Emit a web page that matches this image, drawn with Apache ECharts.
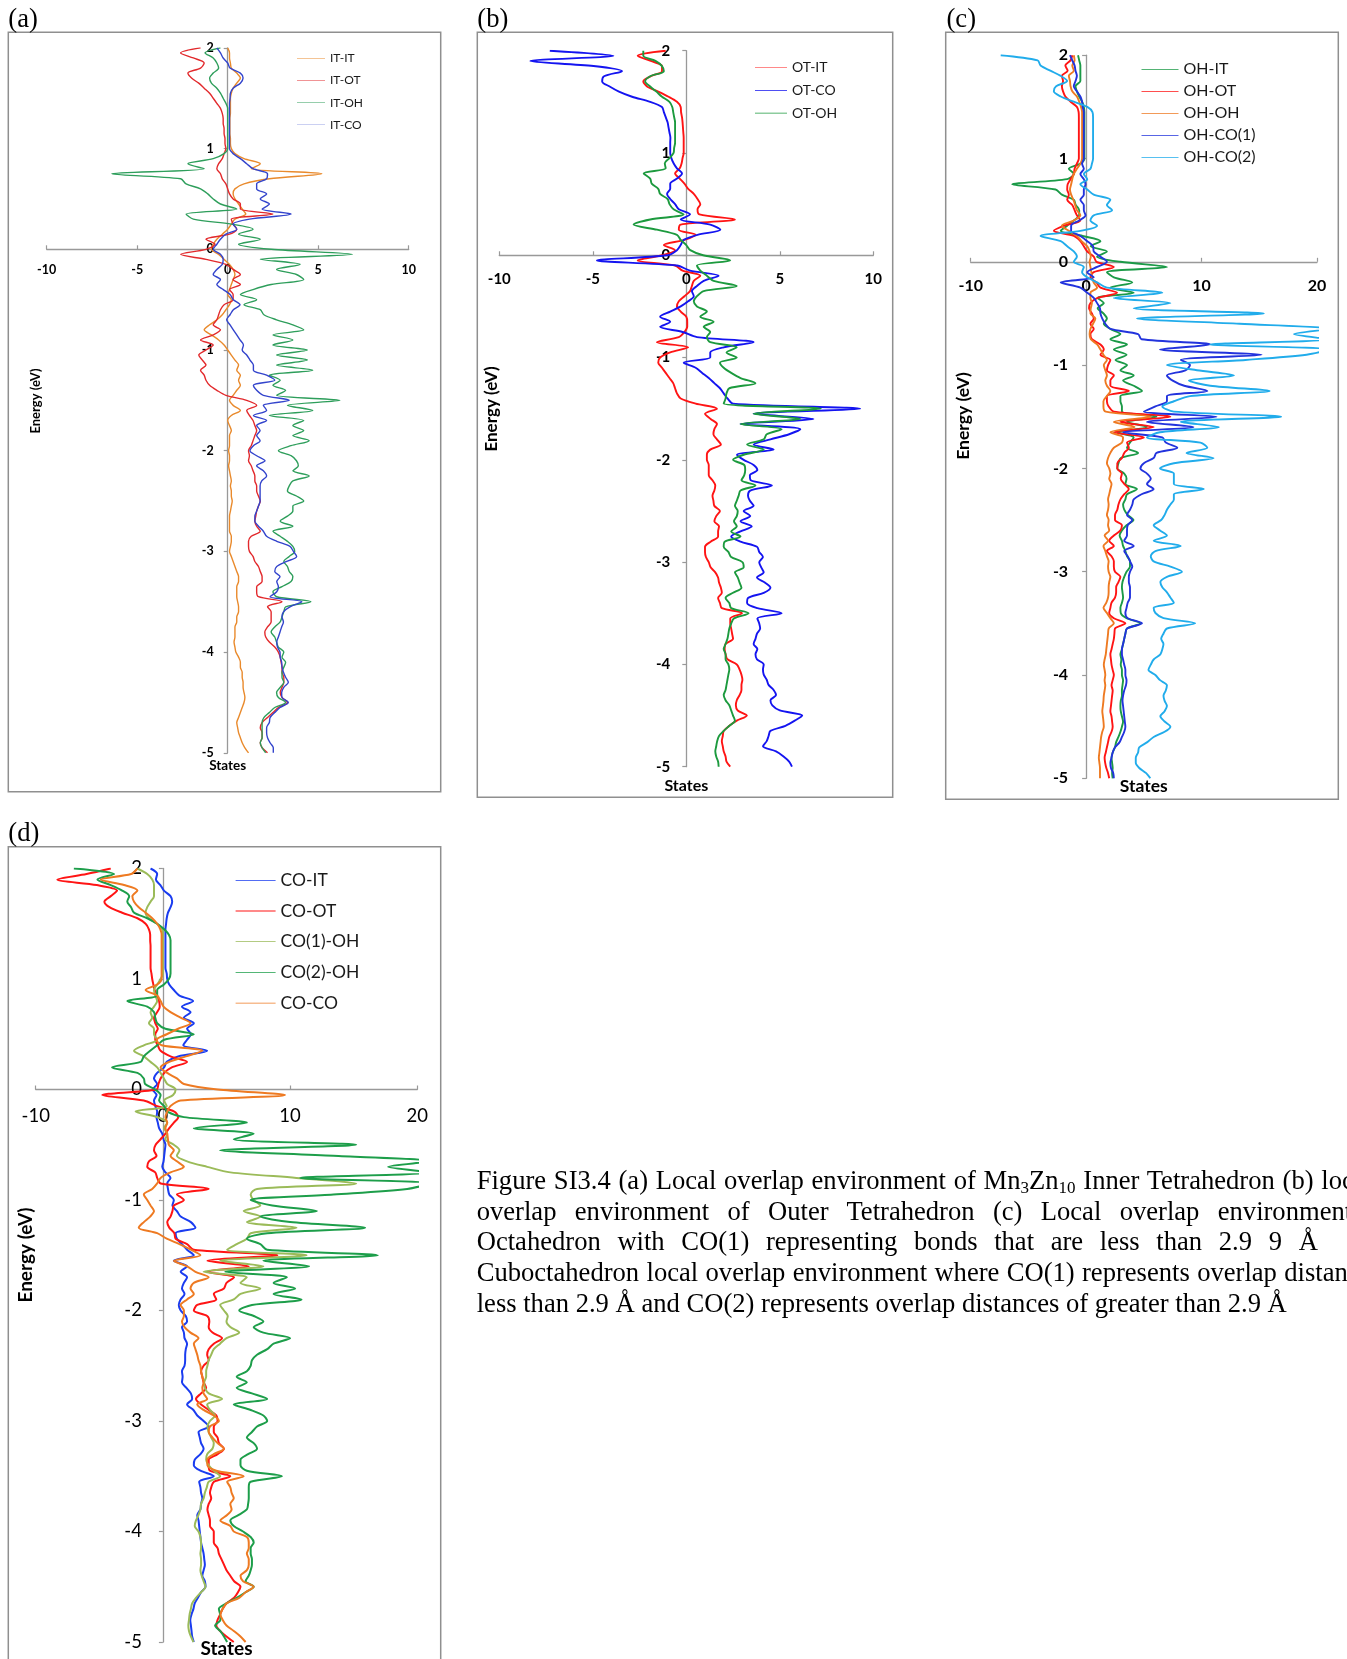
<!DOCTYPE html>
<html><head><meta charset="utf-8">
<script src="https://cdn.jsdelivr.net/npm/echarts@6/dist/echarts.min.js"></script>
<style>
html,body{margin:0;padding:0;width:1347px;height:1659px;overflow:hidden;background:#fff}
#chart{position:absolute;left:0;top:0;width:1347px;height:1659px}
.t{position:absolute;font-family:'Liberation Serif','Times New Roman',serif;font-size:26.6px;line-height:30.7px;white-space:nowrap;color:#000}
.t sub{font-size:17px;vertical-align:-4px;line-height:0}
</style></head><body>
<div id="chart"></div>
<div class="t" style="left:8.3px;top:3px">(a)</div>
<div class="t" style="left:477.3px;top:3px">(b)</div>
<div class="t" style="left:946.5px;top:3px">(c)</div>
<div class="t" style="left:8.3px;top:817px">(d)</div>
<div class="t" style="left:476.7px;top:1165px;word-spacing:1.1px">Figure SI3.4 (a) Local overlap environment of Mn<sub>3</sub>Zn<sub>10</sub> Inner Tetrahedron (b) local</div>
<div class="t" style="left:476.7px;top:1195.7px;word-spacing:11.7px">overlap environment of Outer Tetrahedron (c) Local overlap environment of</div>
<div class="t" style="left:476.7px;top:1226.4px;word-spacing:10px">Octahedron with CO(1) representing bonds that are less than 2.9 9 Å</div>
<div class="t" style="left:476.7px;top:1257.1px;word-spacing:0.7px">Cuboctahedron local overlap environment where CO(1) represents overlap distances</div>
<div class="t" style="left:476.7px;top:1287.8px">less than 2.9 Å and CO(2) represents overlap distances of greater than 2.9 Å</div>
<script>
// Energy sampling grid (eV), 2.00 down to -5.00 in 0.05 steps
const energy = [];
for (let i = 0; i <= 140; i++) energy.push(Math.round((2 - i * 0.05) * 100) / 100);

const yTicks = [2, 1, 0, -1, -2, -3, -4, -5];
const xTicksAB = [-10, -5, 0, 5, 10];
const xTicksCD = [-10, 0, 10, 20];

// ---------- (a) Inner Tetrahedron ----------
const itIT = [
0,0.1,0.1,0.15,0.2,0.5,0.7,0.5,0.3,0.2,
0.15,0.15,0.15,0.15,0.12,0.12,0.12,0.12,0.15,0.15,
0.2,0.4,0.9,1.8,1.3,5.2,2.3,0.9,0.4,0.3,
0.4,0.6,0.8,1.0,0.4,0.2,0,-0.3,-0.6,-0.8,
-0.9,-0.5,-0.2,0.1,0.3,0.4,0.3,0.2,0.1,0,
0.2,0.1,-0.1,-0.3,-0.6,-1.0,-1.3,-0.9,-0.5,-0.2,
0,0.2,0.4,0.6,0.5,0.7,0.6,0.7,0.5,0.3,
0.1,0.3,0.7,0.2,0,0.1,0.2,0.1,0.1,0.1,
0.05,0.1,0.1,0.05,0.1,0.15,0.2,0.15,0.2,0.2,
0.25,0.2,0.15,0.1,0.1,0.1,0.1,0.2,0.2,0.15,
0.1,0.2,0.3,0.4,0.5,0.6,0.6,0.5,0.5,0.5,
0.55,0.6,0.6,0.5,0.5,0.4,0.4,0.4,0.35,0.4,
0.45,0.6,0.7,0.7,0.8,0.8,0.85,0.85,0.9,0.95,
0.9,0.8,0.7,0.6,0.5,0.55,0.6,0.7,0.8,0.95,
1.15];
const itOT = [
-1.5,-2.6,-1.9,-1.3,-1.5,-2.2,-2.0,-1.6,-1.3,-1.0,
-0.8,-0.6,-0.4,-0.3,-0.25,-0.25,-0.2,-0.2,-0.15,-0.15,
-0.1,-0.2,-0.3,-0.5,-0.6,-0.4,-0.3,-0.1,0,0.1,
0.3,0.7,0.7,2.5,0.2,0.3,0.5,0.1,-1.2,-0.7,
-1.2,-2.6,-1.2,-0.1,0.3,0.7,0.3,0.7,0.1,0.3,
0.3,-0.2,-0.4,-0.5,-0.6,-0.8,-0.4,-0.8,-1.5,-0.8,
-1.2,-1.6,-1.4,-1.2,-1.5,-1.3,-1.2,-1.0,-0.6,-0.1,
1.05,1.6,1.05,1.2,1.4,1.5,1.6,1.5,1.4,1.3,
1.15,1.2,1.15,1.3,1.4,1.5,1.5,1.6,1.6,1.7,
1.8,1.7,1.6,1.55,1.5,1.6,1.8,1.3,1.15,1.15,
1.2,1.4,1.5,1.7,1.8,1.9,1.9,1.6,1.6,1.7,
3.0,2.2,2.4,2.4,2.4,2.2,2.05,2.1,2.3,2.6,
2.8,2.9,2.95,3.0,3.0,3.1,3.1,3.0,2.9,3.0,
3.3,2.8,2.5,2.2,1.9,1.8,1.9,1.9,1.8,1.9,
2.2];
const itOH = [
-0.4,-1.25,-0.8,-0.6,-0.5,-0.8,-1.0,-0.9,-0.6,-0.4,
-0.25,-0.1,0,0,0,0,0,0,0,0,
0,-0.2,-0.8,-2.2,-1.3,-6.4,-2.6,-2.3,-1.5,-1.1,
-0.8,-0.4,0.5,-2.3,-1.9,0.2,1.4,0.6,1.8,0.6,
2.4,6.9,1.8,4.0,2.7,3.8,4.2,2.4,1.4,0.7,
1.6,0.9,1.8,2.0,2.7,3.6,4.2,2.5,3.6,2.5,
4.4,2.7,4.4,2.7,4.7,2.3,2.9,2.5,3.2,2.7,
6.2,3.3,4.7,2.3,4.2,3.6,4.2,3.6,4.5,3.5,
2.8,3.5,3.8,3.9,3.6,4.5,3.6,3.4,3.3,3.8,
4.2,3.6,3.6,3.3,2.9,3.6,2.5,2.9,3.3,3.6,
3.7,3.4,3.1,3.3,3.4,3.6,3.5,3.0,2.5,2.7,
4.6,3.2,3.1,3.0,2.9,2.6,2.4,2.6,2.7,2.8,
3.1,3.0,3.2,3.1,3.0,3.0,3.1,2.9,2.7,2.8,
3.2,2.6,2.3,2.0,1.9,1.9,1.9,1.9,1.8,1.9,
2.1];
const itCO = [
-0.6,-0.4,-0.25,0,0.13,0.7,0.85,0.7,0.3,0.15,
0.13,0.1,0.1,0.1,0.1,0.1,0.1,0.1,0.1,0.1,
0.1,0.3,0.7,1.05,1.4,2.2,2.15,1.6,1.6,2.15,
1.8,2.3,1.9,3.5,1.2,0.3,0.5,-0.1,-0.4,-0.6,
-0.8,-0.4,-0.25,-0.3,-0.6,-0.8,-0.4,-0.6,-0.24,0.13,
0.31,0.68,0.31,0.13,-0.06,0.13,0.31,0.5,0.68,0.87,
0.8,1.05,1.23,1.42,1.42,2.15,2.6,1.42,1.6,1.97,
3.4,1.97,2.15,1.42,2.15,1.6,1.79,1.6,1.79,1.42,
1.23,1.6,2.06,1.6,1.97,2.15,1.88,1.79,1.79,1.79,
1.79,1.7,1.6,1.5,1.5,1.7,1.97,2.15,2.71,3.44,
3.63,3.81,3.26,2.71,2.6,2.89,2.71,2.8,2.71,2.34,
4.1,3.44,3.08,3.0,3.08,2.98,2.89,2.8,2.71,2.75,
2.89,2.9,2.98,3.0,3.08,3.2,3.35,3.1,2.98,3.0,
3.35,2.89,2.6,2.34,2.3,2.15,2.15,2.2,2.34,2.52,
2.52];

// ---------- (b) Outer Tetrahedron ----------
const otIT = [
-1.1,-2.6,-1.9,-1.3,-1.3,-1.9,-2.3,-2.1,-1.5,-0.95,
-0.5,-0.3,-0.28,-0.23,-0.2,-0.18,-0.16,-0.14,-0.14,-0.14,
-0.14,-0.2,-0.25,-0.35,-0.6,-0.35,-0.1,0.1,0.4,0.6,
0.75,0.6,0.7,2.6,-0.3,-0.4,0.5,-0.1,-1.2,-0.6,
-1.3,-2.6,-0.6,-0.2,0.75,0.4,0.3,0.2,-0.1,-0.4,
-0.5,-0.3,0.0,0.05,0.05,-0.1,-0.4,-1.57,0.1,-0.86,
-1.4,-1.5,-1.3,-1.1,-0.9,-0.7,-0.6,-0.5,-0.3,0.5,
1.64,1.0,1.3,1.64,1.5,1.45,1.64,1.85,1.28,1.1,
1.1,1.2,1.2,1.2,1.4,1.55,1.5,1.4,1.45,1.5,
1.8,1.6,1.5,1.75,1.7,1.7,1.3,1.0,1.0,1.05,
1.2,1.3,1.55,1.7,1.75,1.85,1.9,1.7,1.8,1.9,
2.98,2.35,2.35,2.4,2.45,2.5,2.1,2.05,2.1,2.2,
2.7,2.85,2.95,3.0,2.95,2.95,2.85,2.7,2.65,2.75,
3.24,2.7,2.3,2.0,1.95,1.9,1.95,2.0,2.1,2.15,
2.35];
const otCO = [
-7.3,-3.9,-8.34,-4.96,-3.44,-4.4,-4.5,-4.1,-3.6,-2.9,
-1.93,-1.3,-1.2,-1.1,-1.0,-0.95,-0.9,-0.85,-0.86,-0.86,
-0.86,-0.8,-0.68,-0.5,-0.23,-0.5,-0.86,-0.86,-1.03,-0.86,
-0.6,-0.4,0.2,-0.3,1.28,1.82,0.6,-0.14,-0.3,-0.5,
-1.0,-4.78,-0.5,0.2,1.73,0.93,0.57,0.3,0.4,0.1,
-0.3,-0.86,-1.4,-0.86,-1.4,-0.2,0.57,3.6,2.0,1.28,
1.28,-0.14,0.5,0.85,1.2,1.5,1.8,2.0,2.2,2.5,
9.3,3.6,6.8,2.9,6.1,5.5,4.5,3.6,4.67,2.71,
3.07,3.6,3.8,3.4,3.45,4.58,3.42,3.3,3.4,3.6,
3.07,3.42,2.9,3.5,2.9,2.4,2.9,3.78,3.9,4.1,
3.9,4.0,4.14,3.78,4.2,4.5,4.14,3.3,3.25,3.8,
5.1,3.8,3.9,3.95,3.78,3.7,3.6,3.8,3.7,3.78,
4.14,4.1,4.14,4.3,4.4,4.67,4.8,4.5,4.6,5.0,
6.2,5.8,5.3,4.5,4.4,4.3,4.1,4.8,5.2,5.5,
5.65];
const otOH = [
-2.3,-2.3,-1.65,-1.3,-1.2,-1.93,-2.2,-1.93,-1.6,-1.3,
-0.9,-0.75,-0.7,-0.65,-0.6,-0.6,-0.6,-0.6,-0.6,-0.65,
-0.68,-0.9,-1.15,-1.1,-2.28,-1.93,-1.85,-1.5,-1.4,-1.0,
-0.9,-0.68,-0.14,-1.93,-2.82,-1.57,-0.5,-0.3,0.0,0.21,
0.9,2.35,0.57,0.75,1.1,1.46,2.7,0.93,0.57,0.4,
0.57,1.1,0.75,1.46,0.93,1.28,1.1,1.28,2.7,2.15,
2.7,1.8,2.0,2.4,2.9,3.7,2.3,2.15,2.1,2.0,
7.2,3.6,6.1,2.9,5.1,4.3,4.14,3.25,4.14,3.07,
2.5,3.1,3.15,3.1,2.95,3.7,2.9,2.8,2.7,2.6,
2.75,2.7,2.55,2.7,2.4,2.9,2.05,2.0,2.25,2.4,
3.0,3.07,2.6,2.75,2.85,2.95,2.5,2.1,2.3,2.4,
3.33,2.55,2.4,2.3,2.25,2.2,2.1,2.0,2.1,2.1,
2.25,2.3,2.25,2.2,2.15,2.1,2.0,2.1,2.3,2.4,
2.5,2.6,2.3,2.0,1.75,1.65,1.6,1.55,1.6,1.7,
1.73];

// ---------- (c) Octahedron ----------
const ohIT = [
-0.7,-0.6,-0.5,-0.5,-0.5,-0.5,-0.92,-0.8,-0.6,-0.35,
-0.2,-0.15,-0.15,-0.15,-0.15,-0.15,-0.15,-0.15,-0.15,-0.15,
-0.15,-0.5,-1.5,-1.07,-1.64,-6.4,-2.65,-2.1,-1.07,-0.9,
-0.6,-0.6,-1.07,-1.64,-2.2,-0.3,1.24,0.4,1.8,0.95,
2.97,7.0,1.8,2.4,4.0,2.1,4.12,1.0,1.53,1.0,
1.5,1.8,1.53,2.1,2.97,2.1,3.54,2.4,3.5,2.55,
3.54,2.97,4.12,3.2,4.12,4.84,2.97,2.97,3.1,3.1,
6.1,3.54,5.27,2.7,4.12,3.8,3.54,4.5,3.0,2.8,
2.7,3.3,3.5,3.4,4.4,3.54,3.4,3.2,3.3,3.6,
4.1,3.5,3.1,2.9,3.1,3.2,3.4,3.54,3.8,3.8,
3.5,3.3,3.15,3.1,3.15,3.2,3.1,2.97,3.0,3.5,
4.7,3.54,3.4,3.3,3.2,3.1,2.97,3.05,3.0,3.1,
3.1,3.2,3.15,3.1,3.1,3.0,2.97,3.0,3.1,3.2,
3.1,2.97,2.8,2.6,2.5,2.3,2.2,2.25,2.3,2.25,
2.3];
const ohOT = [
-1.2,-1.35,-1.8,-1.6,-2.1,-2.0,-2.1,-2.0,-1.8,-1.35,
-0.8,-0.65,-0.63,-0.63,-0.63,-0.63,-0.63,-0.63,-0.63,-0.63,
-0.63,-0.8,-1.0,-1.07,-1.35,-1.6,-1.64,-1.5,-1.64,-1.2,
-1.0,-0.8,-0.5,-1.9,-2.8,-1.07,-0.5,-0.2,0.1,0.66,
0.9,2.4,0.66,0.37,0.9,1.24,2.68,1.0,0.37,0.25,
0.5,0.66,0.37,0.66,0.37,0.5,1.24,1.53,1.24,2.1,
1.9,1.8,2.4,2.1,2.1,3.7,1.8,1.8,1.95,2.4,
7.3,2.97,5.85,2.4,5.0,3.54,3.7,3.3,3.1,2.7,
2.7,3.1,3.0,3.3,3.7,3.3,2.97,2.8,2.7,2.5,
2.5,3.1,2.97,2.4,2.0,2.4,1.8,2.2,2.4,2.4,
2.5,2.97,2.8,2.6,2.6,2.5,2.2,2.1,2.0,2.4,
3.4,2.5,2.45,2.4,2.3,2.2,2.1,2.15,2.2,2.3,
2.4,2.3,2.2,2.3,2.25,2.2,2.15,2.1,2.2,2.25,
2.3,2.2,2.0,1.9,1.8,1.7,1.6,1.65,1.75,1.9,
2.0];
const ohOH = [
-1.07,-1.0,-1.2,-1.07,-1.5,-1.4,-1.35,-1.2,-0.8,-0.6,
-0.45,-0.35,-0.35,-0.35,-0.35,-0.35,-0.35,-0.35,-0.35,-0.35,
-0.35,-0.5,-0.8,-1.07,-1.2,-1.3,-1.4,-1.3,-1.1,-0.95,
-0.8,-0.5,-1.07,-2.1,-1.5,-0.8,-0.4,0.1,0.3,0.4,
0.3,0.37,0.45,0.5,0.66,0.95,0.37,0.37,0.5,0.4,
0.37,0.8,0.6,0.37,0.3,0.4,0.95,1.24,1.5,1.8,
1.53,1.66,1.8,1.66,1.8,2.1,1.8,1.5,1.5,1.7,
5.6,2.4,4.2,2.1,3.2,3.1,2.4,2.1,1.9,1.8,
2.0,2.1,2.0,2.2,2.1,2.0,1.9,1.95,1.9,1.8,
1.95,1.9,2.0,1.6,1.9,1.5,1.66,1.8,1.95,1.9,
1.95,2.1,2.0,1.95,1.95,1.9,1.75,1.5,1.8,2.1,
2.4,1.95,1.9,1.85,1.8,1.75,1.7,1.6,1.53,1.6,
1.66,1.6,1.66,1.6,1.53,1.5,1.45,1.4,1.45,1.5,
1.53,1.4,1.3,1.25,1.2,1.15,1.1,1.15,1.2,1.2,
1.2];
const ohCO1 = [
-1.4,-1.2,-1.0,-0.92,-0.8,-0.92,-1.07,-0.8,-0.5,-0.35,
-0.3,-0.2,-0.2,-0.2,-0.2,-0.2,-0.2,-0.2,-0.2,-0.2,
-0.2,-0.35,-0.2,-0.5,-0.2,-0.05,-0.2,-0.2,-0.5,-0.2,
-0.2,-0.05,-0.6,-1.3,-1.3,-0.5,0.1,0.6,0.66,1.24,
1.8,0.95,0.1,0.66,-2.2,-0.5,0.1,0.66,0.95,1.2,
1.24,1.4,1.66,2.1,4.5,4.8,10.75,6.4,15.2,8.2,
9.0,8.6,7.0,7.5,8.5,10.5,7.0,7.0,6.0,5.0,
11.3,5.27,9.3,3.2,6.6,6.9,7.9,6.1,5.85,5.0,
4.7,5.27,5.6,5.27,5.85,4.8,4.12,4.0,3.8,3.54,
4.0,3.6,3.54,3.54,3.3,4.12,3.3,3.6,3.8,4.0,
3.8,3.7,3.7,3.8,3.8,3.8,3.6,3.5,3.4,3.6,
4.84,3.54,3.4,3.3,3.2,3.1,3.1,3.2,3.3,3.4,
3.4,3.5,3.45,3.3,3.2,3.15,3.2,3.25,3.3,3.35,
3.4,3.3,3.1,2.9,2.5,2.3,2.2,2.1,2.15,2.35,
2.4];
const ohCO2 = [
-7.4,-4.2,-3.95,-3.1,-2.2,-1.64,-2.6,-2.8,-2.2,-1.07,
0.1,0.55,0.6,0.6,0.6,0.6,0.6,0.6,0.6,0.6,
0.6,0.5,0.37,-0.2,0.1,-0.5,0.1,0.66,2.1,1.8,
2.25,0.66,0.37,0.95,-0.5,-3.95,-2.2,-1.64,-1.07,-0.8,
-1.07,-0.2,-0.35,0.1,0.95,1.8,6.6,2.4,7.3,4.12,
15.4,4.4,13.3,21,18.0,21,10.75,21,19.1,13.8,
7.0,9.6,12.8,8.9,10.75,15.9,9.0,7.6,6.6,7.6,
16.9,8.2,11.5,6.4,5.27,9.9,10.5,8.7,11.04,7.6,
6.4,7.6,7.6,7.6,10.2,7.6,7.6,7.3,7.0,6.8,
6.5,5.85,6.4,7.0,5.85,8.2,6.0,5.6,5.85,7.3,
8.3,7.0,6.43,6.6,7.0,7.3,7.6,5.85,6.0,6.7,
9.45,7.0,6.7,6.5,6.7,6.6,6.43,5.85,5.6,5.4,
6.0,6.4,7.0,6.9,6.7,6.8,7.0,6.8,6.43,6.8,
7.3,6.8,5.85,5.3,4.6,4.5,4.3,4.3,4.6,5.2,
5.56];

// ---------- (d) Cuboctahedron ----------
const coIT = [
-0.97,-0.45,-0.55,-0.2,0.08,0.6,0.73,0.6,0.4,0.3,
0.25,0.2,0.2,0.2,0.2,0.2,0.2,0.2,0.2,0.3,
0.34,0.5,0.86,1.3,2.38,1.5,2.17,1.65,2.43,1.9,
2.2,1.9,1.6,3.48,1.2,0.3,0.1,-0.45,-0.7,-0.45,
-0.8,-0.5,-0.7,-0.6,-0.45,-0.5,-0.4,-0.3,-0.05,0.05,
0.2,0.15,0.1,0.05,-0.05,0.2,0.6,0.34,0.4,0.5,
0.86,0.75,1.1,1.4,2.2,2.56,1.0,1.1,1.5,1.9,
2.43,0.86,1.9,1.4,1.9,1.65,1.5,1.7,1.39,1.25,
1.4,1.8,1.9,1.5,1.65,1.7,1.9,1.8,1.75,1.75,
1.7,1.5,1.55,1.5,1.85,2.2,2.3,1.9,2.4,2.7,
3.2,3.6,2.8,2.9,3.0,3.2,2.95,2.5,2.43,2.95,
4.0,2.85,2.95,3.0,3.1,3.0,2.95,2.7,2.8,2.85,
2.9,2.95,3.0,3.1,3.2,3.25,3.3,3.2,3.1,3.3,
3.35,3.0,2.75,2.5,2.4,2.25,2.15,2.2,2.25,2.3,
2.43];
const coOT = [
-4.1,-6.0,-8.3,-5.2,-3.6,-4.1,-4.6,-4.2,-3.2,-2.0,
-1.36,-1.1,-1.0,-1.0,-0.97,-0.97,-0.97,-0.97,-0.97,-0.9,
-0.84,-0.75,-0.65,-0.45,-0.3,-0.25,-0.45,-0.7,-0.6,-0.4,
-0.6,-0.6,-0.4,-0.18,0.6,1.9,0.7,0.1,-0.18,-0.35,
-0.5,-4.76,-1.5,-0.45,0.9,1.2,0.86,0.5,0.2,-0.18,
-0.57,-0.7,-0.5,-1.1,-1.23,-0.6,-0.45,-0.18,3.6,1.1,
1.65,0.86,0.75,0.6,0.34,0.5,0.9,1.0,1.9,2.43,
9.0,3.5,6.75,3.48,5.6,5.0,4.8,4.0,4.2,2.7,
2.43,3.48,3.65,3.6,3.9,4.65,4.0,3.6,3.48,3.6,
3.2,3.0,3.1,3.2,3.4,3.0,2.6,3.0,3.6,4.2,
4.3,4.0,4.0,4.3,4.4,4.8,4.3,3.6,3.6,3.7,
5.3,4.0,3.8,3.7,3.8,3.6,3.5,3.6,3.7,3.7,
4.0,4.0,4.0,4.3,4.4,4.6,4.8,5.0,5.3,5.6,
6.1,5.9,5.6,5.0,4.7,4.5,4.3,4.2,4.5,5.0,
5.57];
const co1OH = [
-2.0,-1.23,-0.84,-0.7,-0.7,-0.7,-0.97,-1.23,-1.36,-1.1,
-0.45,-0.05,0,0,0,0,0,0,0,0,
-0.18,-0.45,-0.7,-0.6,-0.45,-0.7,-0.97,-0.84,-1.1,-0.7,
-0.7,-0.45,-1.5,-2.27,-1.5,-0.97,-0.45,-0.18,0.08,0.34,
1.0,0.8,0.1,0.3,-2.15,-0.45,0.34,0.1,0.34,0.2,
0.86,1.3,1.1,1.9,3.48,5.3,10.5,15.2,7.4,6.9,
7.14,7.66,6.35,7.66,6.6,10.5,6.9,6.6,5.8,5.05,
11.3,4.5,7.9,3.2,6.6,6.1,7.66,6.1,5.57,4.5,
4.8,5.1,5.0,5.3,6.0,5.0,4.5,4.0,3.8,3.6,
3.5,3.4,3.4,3.25,3.3,3.6,4.65,3.48,3.7,4.1,
3.7,3.5,3.6,3.8,4.0,3.9,3.48,3.4,3.6,4.0,
4.5,3.6,3.45,3.3,3.2,3.0,2.95,2.8,2.6,2.5,
2.8,2.95,3.0,3.0,2.95,3.0,3.0,2.95,3.05,3.2,
3.35,3.0,2.6,2.3,2.2,2.1,2.05,2.0,2.05,2.2,
2.4];
const co2OH = [
-7.0,-3.84,-5.15,-4.1,-3.2,-2.65,-2.8,-2.5,-2.27,-1.23,
-0.45,0.1,0.47,0.6,0.6,0.6,0.6,0.6,0.6,0.6,
0.47,0.08,-0.45,-0.45,-2.8,-1.23,-0.7,-0.6,-0.45,0.2,
2.43,0.1,-0.45,-1.0,-1.5,-1.75,-4.0,-2.0,-1.5,-1.4,
-0.6,-0.18,-0.3,0.1,0.34,1.65,6.6,2.43,7.14,5.57,
15.2,4.5,13.4,21,17.7,21,10.8,21,19.2,13.4,
6.9,8.6,12.1,7.66,10.0,15.9,8.2,6.6,7.66,8.2,
16.9,7.9,11.5,4.9,9.75,8.7,10.4,8.7,10.9,7.0,
6.0,7.14,7.9,7.14,7.9,10.0,8.7,8.2,7.4,7.0,
6.9,6.6,5.8,6.6,5.8,7.0,8.2,5.57,6.9,7.9,
8.2,7.4,7.0,6.6,7.14,7.4,6.7,6.1,6.1,6.6,
9.36,6.9,6.75,6.75,6.75,6.7,6.6,5.96,5.3,5.57,
6.3,6.9,7.14,6.9,6.9,7.0,7.0,6.9,6.75,6.5,
7.14,6.5,5.8,5.0,4.4,4.5,4.52,4.1,4.5,4.8,
5.05];
const coCO = [
-2.0,-2.5,-4.9,-3.05,-2.0,-2.4,-2.27,-1.9,-1.36,-0.84,
-0.45,-0.2,-0.1,-0.1,-0.1,-0.1,-0.1,-0.1,-0.1,-0.1,
-0.1,-0.45,-1.36,-0.45,-0.18,0.05,0.6,1.39,2.17,1.2,
0.3,-0.5,-0.1,3.1,1.8,0.5,-0.18,0.34,1.1,1.65,
4.3,9.6,1.39,0.6,0.34,0.2,0.34,0.2,0.34,0.4,
0.47,0.86,0.6,1.1,1.65,0.6,-0.18,-0.45,-0.84,-1.5,
-1.23,-0.97,-0.7,-1.0,-1.5,-1.9,-0.45,0.3,1.3,2.2,
2.95,0.86,1.9,2.56,3.6,2.43,2.17,2.43,1.9,1.39,
1.65,1.65,1.5,1.7,2.17,2.8,2.43,2.56,2.7,2.8,
2.95,3.0,3.1,3.2,3.1,3.2,3.48,2.7,3.2,4.0,
4.4,3.7,3.6,3.9,4.3,4.8,4.0,3.48,3.5,4.2,
6.35,5.05,5.3,5.4,5.57,5.3,5.4,5.05,4.52,5.3,
5.57,6.6,6.75,6.75,6.6,6.75,6.75,6.6,6.1,6.3,
7.14,6.5,6.0,5.0,4.7,4.52,4.7,5.0,5.57,6.1,
6.5];

// ---------- layout / style (kept apart from data) ----------
const FONT = 'Lato, "Open Sans", sans-serif';
const panelStyles = [
  { grid: { left: 46.7, top: 47.9, width: 362, height: 704.9 }, xt: xTicksAB,
    label: { fontWeight: 'bold', fontSize: 12.5 }, xm: 14, ym: 14,
    legend: { left: 297, top: 52.3, itemWidth: 28, itemGap: 10.2, fontSize: 12 }, lw: 1.4 },
  { grid: { left: 499.3, top: 50.7, width: 374, height: 716 }, xt: xTicksAB,
    label: { fontWeight: 'bold', fontSize: 15 }, xm: 16, ym: 16,
    legend: { left: 755, top: 60.7, itemWidth: 32, itemGap: 8.7, fontSize: 14 }, lw: 1.9 },
  { grid: { left: 970.7, top: 55.2, width: 346.3, height: 723.1 }, xt: xTicksCD,
    label: { fontWeight: 'bold', fontSize: 16 }, xm: 16, ym: 18,
    legend: { left: 1141.5, top: 61.3, itemWidth: 37, itemGap: 6, fontSize: 16 }, lw: 1.9 },
  { grid: { left: 35.7, top: 868.5, width: 381.6, height: 773.5 }, xt: xTicksCD,
    label: { fontWeight: 'normal', fontSize: 18.5 }, xm: 17, ym: 21,
    legend: { left: 235.6, top: 871.3, itemWidth: 40, itemGap: 12.7, fontSize: 17.5 }, lw: 2 }
];

const seriesDefs = [
  ['IT-IT', itIT, '#E98A2C', 0], ['IT-OT', itOT, '#E2292C', 0],
  ['IT-OH', itOH, '#2E9E5B', 0], ['IT-CO', itCO, '#3344CC', 0],
  ['OT-IT', otIT, '#FF1414', 1], ['OT-CO', otCO, '#1414F0', 1], ['OT-OH', otOH, '#1C9A3E', 1],
  ['OH-IT', ohIT, '#1B9A47', 2], ['OH-OT', ohOT, '#FF1414', 2], ['OH-OH', ohOH, '#EE7A22', 2],
  ['OH-CO(1)', ohCO1, '#2233DD', 2], ['OH-CO(2)', ohCO2, '#21ACEB', 2],
  ['CO-IT', coIT, '#1A3CF0', 3], ['CO-OT', coOT, '#FF1414', 3], ['CO(1)-OH', co1OH, '#9BBB59', 3],
  ['CO(2)-OH', co2OH, '#1D9E4A', 3], ['CO-CO', coCO, '#EE7A22', 3]
];

// thin horizontal bar centred in a 14-unit-tall box (tiny corner specks fix the bounding box)
function barIcon(th) {
  const a = (14 - th) / 2;
  return 'path://M0,0L0.01,0L0,0.01Z M0,' + a + 'H100V' + (a + th) + 'H0Z M0,14L0.01,14L0,13.99Z';
}

const axisColor = '#999999';
const yMin = Math.min(...yTicks), yMax = Math.max(...yTicks);
const grids = [], xAxes = [], yAxes = [], legends = [];
panelStyles.forEach((p, i) => {
  grids.push(Object.assign({ containLabel: false }, p.grid));
  const xMin = Math.min(...p.xt), xMax = Math.max(...p.xt);
  const lab = { fontFamily: FONT, color: '#000', fontWeight: p.label.fontWeight, fontSize: p.label.fontSize, showMinLabel: true, showMaxLabel: true };
  // axes cross at zero: shift the axes from the grid edges to the zero lines
  const xOff = -p.grid.height * (0 - yMin) / (yMax - yMin);
  const yOff = -p.grid.width * (0 - xMin) / (xMax - xMin);
  xAxes.push({
    gridIndex: i, type: 'value', position: 'bottom', offset: xOff,
    min: xMin, max: xMax, interval: p.xt[1] - p.xt[0],
    axisLine: { onZero: false, lineStyle: { color: axisColor, width: 1.3 } },
    axisTick: { show: true, inside: true, length: 4, lineStyle: { color: axisColor, width: 1.2 } },
    axisLabel: Object.assign({ margin: p.xm }, lab),
    splitLine: { show: false }
  });
  yAxes.push({
    gridIndex: i, type: 'value', position: 'left', offset: yOff,
    min: yMin, max: yMax, interval: yTicks[0] - yTicks[1],
    axisLine: { onZero: false, lineStyle: { color: axisColor, width: 1.3 } },
    axisTick: { show: true, inside: false, length: 4, lineStyle: { color: axisColor, width: 1.2 } },
    axisLabel: Object.assign({ margin: p.ym }, lab),
    splitLine: { show: false }
  });
  legends.push({
    data: seriesDefs.filter(s => s[3] === i).map(s => s[0]),
    orient: 'vertical', left: p.legend.left, top: p.legend.top,
    itemWidth: p.legend.itemWidth, itemHeight: 14, itemGap: p.legend.itemGap,
    icon: barIcon(p.lw), itemStyle: { borderWidth: 0 },
    selectedMode: false, padding: 0,
    textStyle: { fontFamily: FONT, fontSize: p.legend.fontSize, color: '#1a1a1a' }
  });
});

const series = seriesDefs.map(([name, vals, color, pi]) => ({
  type: 'line', name, xAxisIndex: pi, yAxisIndex: pi,
  data: vals.map((v, k) => [v, energy[k]]),
  symbol: 'none', showSymbol: false, smooth: 0.3, clip: true,
  lineStyle: { color, width: panelStyles[pi].lw }, itemStyle: { color },
  emphasis: { disabled: true }, animation: false
}));

function txt(x, y, text, size, rot) {
  return { type: 'text', x, y, rotation: rot || 0, silent: true,
    style: { text, font: 'bold ' + size + 'px ' + FONT, fill: '#000',
      align: 'center', verticalAlign: 'middle', textAlign: 'center', textVerticalAlign: 'middle' } };
}
function box(x, y, w, h) {
  return { type: 'rect', silent: true, shape: { x, y, width: w, height: h },
    style: { fill: 'none', stroke: '#8f8f8f', lineWidth: 1.5 } };
}
const graphics = [
  box(8.3, 32.3, 432.4, 759.4), box(477.3, 32.3, 415.4, 765), box(945.7, 32.3, 392.6, 767), box(8.3, 846.7, 432.4, 900),
  txt(36, 401, 'Energy (eV)', 13, Math.PI / 2), txt(491.7, 409, 'Energy (eV)', 17, Math.PI / 2),
  txt(963.3, 416, 'Energy (eV)', 17.5, Math.PI / 2), txt(26, 1255, 'Energy (eV)', 19, Math.PI / 2),
  txt(227.7, 765.7, 'States', 13.5), txt(686.3, 785.7, 'States', 16),
  txt(1143.8, 786.7, 'States', 17.5), txt(226.5, 1649, 'States', 19)
];

const chart = echarts.init(document.getElementById('chart'), null, { renderer: 'canvas' });
chart.setOption({
  animation: false,
  backgroundColor: '#fff',
  grid: grids, xAxis: xAxes, yAxis: yAxes, legend: legends,
  series, graphic: graphics
});
</script>
</body></html>
